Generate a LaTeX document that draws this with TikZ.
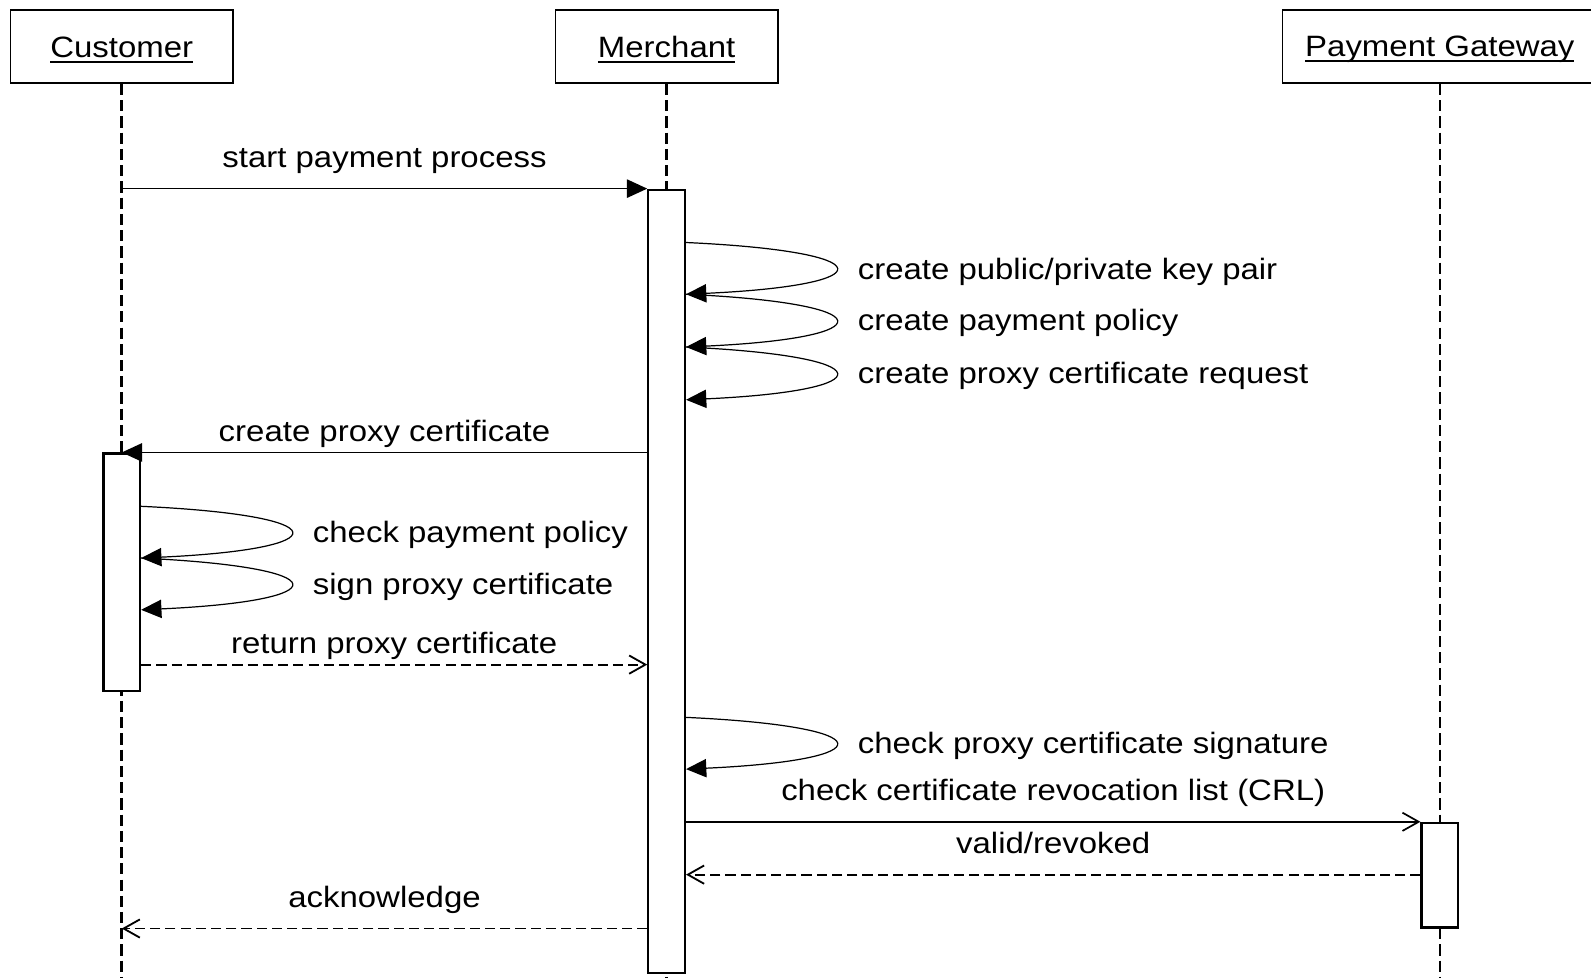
\documentclass[tikz,border=0pt]{standalone}
\usepackage{fontspec}
\setmainfont[FakeStretch=1.12]{Liberation Sans}
\usetikzlibrary{arrows.meta}

\newcommand{\uln}[1]{\setbox0\hbox{#1}\rlap{\rule[-2.5pt]{\wd0}{0.9pt}}\rule{0pt}{\dimexpr\ht0+3pt\relax}\box0}

\tikzset{
  actor/.style={draw, line width=0.8pt, minimum width=109.5pt, minimum height=36pt, inner sep=0pt},
  lifeline/.style={line width=1.3pt, dash pattern=on 5.5pt off 2.5pt},
  act/.style={draw, fill=white, line width=1.1pt, minimum width=18pt, inner sep=0pt},
  call/.style={line width=0.85pt, -{Triangle[length=10pt,width=9pt]}},
  async/.style={line width=0.85pt, -{Straight Barb[length=8pt,width=9pt]}},
  reply/.style={line width=0.9pt, dash pattern=on 5pt off 2.5pt, -{Straight Barb[length=8pt,width=9pt]}},
  selfcall/.style={line width=0.6pt, -{Triangle[length=10pt,width=9pt]}},
  msg/.style={pos=0.5, anchor=base, yshift=10.5pt},
  lowmsg/.style={msg, yshift=-5pt},
  note/.style={anchor=base west, inner sep=0pt}
}

\begin{document}
\begin{tikzpicture}[x=0.5pt, y=-0.5pt, font=\fontsize{14.5}{17}\selectfont]
    \useasboundingbox (0,0) rectangle (1568,963);

    % participants
    \node[actor] (cust) at (120,46) {\uln{Customer}};
    \node[actor] (merch) at (657,46) {\uln{Merchant}};
    \node[actor, minimum width=155pt] (gate) at (1419,46) {\uln{Payment Gateway}};
    \coordinate (bot) at (0,963);

    % lifelines
    \draw[lifeline] (cust.south) -- (cust |- bot);
    \draw[lifeline] (merch.south) -- (merch |- bot);
    \draw[lifeline] (gate.south) -- (gate |- bot);

    % activations
    \node[act, minimum height=386pt] (actM) at (657,573) {};
    \node[act, minimum height=117pt] (actC) at (120,564) {};
    \node[act, minimum height=51.5pt] (actG) at (1419,862.5) {};

    % message levels
    \coordinate (yret) at (0,655);
    \coordinate (yval) at (0,862);

    % messages
    \draw[call] (cust |- actM.north) -- (actM.north west)
        node[msg] (l1) {start payment process};
    \draw[call] (actM.west |- actC.north) -- (cust |- actC.north)
        node[lowmsg] (l2) {create proxy certificate};
    \draw[reply] (actC.east |- yret) -- (actM.west |- yret)
        node[lowmsg] (l3) {return proxy certificate};
    \draw[async] (actM.east |- actG.north) -- (actG.north west)
        node[msg] (l4) {check certificate revocation list (CRL)};
    \draw[reply] (actG.west |- yval) -- (actM.east |- yval)
        node[msg] (l5) {valid/revoked};
    \draw[reply] (actM.west |- actG.south) -- (cust |- actG.south)
        node[msg] (l6) {acknowledge};

    % self calls on merchant
    \foreach \ya/\yb/\txt [count=\i] in {239/290/{create public/private key pair},
        290/342/{create payment policy}, 342/394/{create proxy certificate request},
        707/758/{check proxy certificate signature}} {
        \coordinate (ms\i) at (actM.east |- 0,\ya);
        \coordinate (me\i) at (actM.east |- 0,\yb);
        \draw[selfcall] (ms\i) .. controls +(196,9) and +(196,-9) .. (me\i);
        \node[note] (mt\i) at (845,{\ya+36}) {\txt};
    }

    % self calls on customer
    \foreach \ya/\yb/\txt [count=\i] in {499/550/{check payment policy},
        550/601/{sign proxy certificate}} {
        \coordinate (cs\i) at (actC.east |- 0,\ya);
        \coordinate (ce\i) at (actC.east |- 0,\yb);
        \draw[selfcall] (cs\i) .. controls +(196,9) and +(196,-9) .. (ce\i);
        \node[note] (ct\i) at (308,{\ya+36}) {\txt};
    }
\end{tikzpicture}
\end{document}
